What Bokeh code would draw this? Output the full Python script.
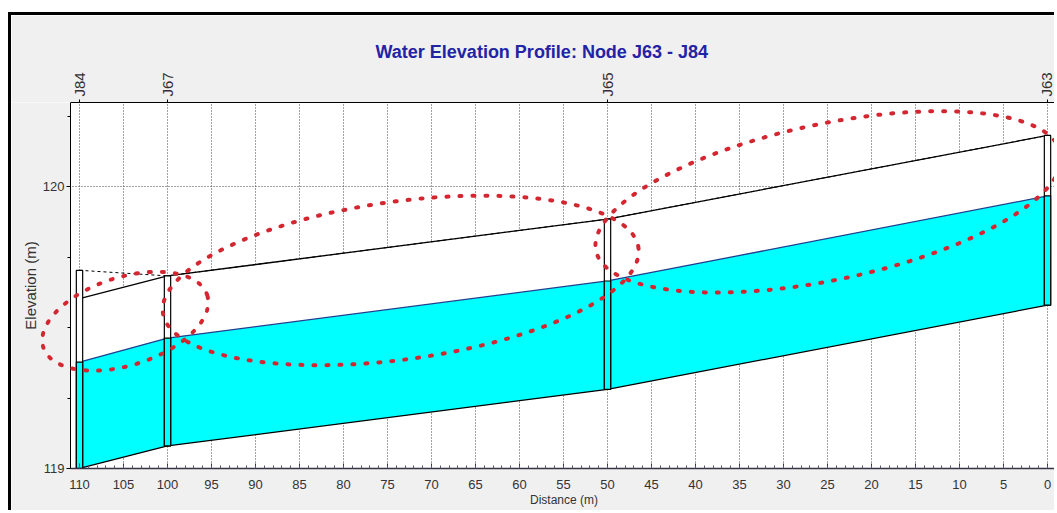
import numpy as np
from bokeh.plotting import figure
from bokeh.models import Range1d, LinearAxis, FixedTicker, PolyAnnotation
from bokeh.embed import file_html
from bokeh.resources import INLINE

# ---------------- data ----------------
node_names = ["J84", "J67", "J65", "J63"]
node_dist = [110, 100, 50, 0]
node_top = [119.704, 119.684, 119.886, 120.183]
pipe_crown = [119.603, 119.684, 119.886, 120.183]
pipe_invert = [119.000, 119.080, 119.281, 119.580]
water_elev = [119.378, 119.463, 119.666, 119.968]

x_ticks = list(range(0, 111, 5))
x_minor_ticks = list(range(0, 111, 1))
y_ticks = [119, 120]
y_minor_ticks = [119.25, 119.5, 119.75, 120.25]

title_text = "Water Elevation Profile:  Node J63 - J84"
x_label = "Distance (m)"
y_label = "Elevation (m)"

# hand-drawn red dotted ellipses (centre in data units, semi-axes in px, tilt in deg)
mark_cx = [104.8, 73.5, 24.9]
mark_cy = [119.523, 119.668, 119.947]
mark_a = [86, 240, 237.5]
mark_b = [44, 79, 78]
mark_tilt = [17.7, 7.8, 11.9]

# ---------------- layout ----------------
W, H = 1046, 498
ML, MR, MT, MB = 0, 0, 87, 0
X0, X1 = 117.727, -1.136      # frame spans whole canvas width
XA = 111.02                   # where the plot area (left axis) starts
Y0, Y1 = 118.840, 120.30      # frame reaches the canvas bottom
YA = 119.0                    # where the plot area (bottom axis) sits

p = figure(width=W, height=H, x_range=Range1d(X0, X1), y_range=Range1d(Y0, Y1),
           output_backend="svg", toolbar_location=None,
           min_border_left=ML, min_border_right=MR, min_border_top=MT, min_border_bottom=MB,
           background_fill_color="white", border_fill_color="#f0f0f0",
           outline_line_color=None)
p.styles = {"border-left": "3px solid #000", "border-top": "3px solid #000",
            "margin-top": "12px", "margin-left": "8px", "margin-bottom": "-10px"}

FONT = "Liberation Sans"

# title
p.title.text = title_text
p.title.align = "left"
p.title.offset = 364
p.title.text_font = FONT
p.title.text_font_size = "18px"
p.title.text_font_style = "bold"
p.title.text_color = "#2323a5"
p.title.standoff = 16

# bottom axis, drawn where the plot area ends
xa = p.xaxis[0]
xa.fixed_location = YA
xa.ticker = FixedTicker(ticks=x_ticks, minor_ticks=x_minor_ticks)
xa.bounds = (X1, XA)
xa.axis_label = x_label
xa.axis_label_text_font = FONT
xa.axis_label_text_font_size = "12px"
xa.axis_label_text_font_style = "normal"
xa.axis_label_text_color = "#333333"
xa.axis_label_standoff = 0
xa.major_label_text_font = FONT
xa.major_label_text_font_size = "13px"
xa.major_label_text_color = "#333333"
xa.major_label_standoff = 12
xa.major_tick_in = 5
xa.major_tick_out = 0
xa.minor_tick_in = 3
xa.minor_tick_out = 0
xa.axis_line_color = "#333344"
xa.axis_line_width = 1.5
xa.major_tick_line_color = "#333344"
xa.minor_tick_line_color = "#555566"

# left axis, drawn where the plot area begins
ya = p.yaxis[0]
ya.fixed_location = XA
ya.ticker = FixedTicker(ticks=y_ticks, minor_ticks=y_minor_ticks)
ya.bounds = (YA, Y1)
ya.axis_label = y_label
ya.axis_label_text_font = FONT
ya.axis_label_text_font_size = "15px"
ya.axis_label_text_font_style = "normal"
ya.axis_label_text_color = "#333333"
ya.axis_label_standoff = 1
ya.major_label_text_font = FONT
ya.major_label_text_font_size = "13px"
ya.major_label_text_color = "#333333"
ya.major_label_standoff = 2
ya.major_tick_out = 4
ya.major_tick_in = 0
ya.minor_tick_out = 3
ya.minor_tick_in = 0
ya.axis_line_color = "black"

# top axis with node names
top = LinearAxis(ticker=FixedTicker(ticks=node_dist),
                 major_label_overrides={float(d): n for d, n in zip(node_dist, node_names)},
                 major_label_orientation="vertical",
                 major_label_text_font=FONT, major_label_text_font_size="15px",
                 major_label_text_color="#333333", major_label_standoff=3,
                 major_tick_out=3, major_tick_in=0, minor_tick_out=0, minor_tick_in=0,
                 axis_line_color="black", bounds=(X1, XA))
p.add_layout(top, "above")

# grids
p.xgrid.grid_line_color = "#444444"
p.xgrid.grid_line_dash = "1 2"
p.ygrid.grid_line_color = "#444444"
p.ygrid.grid_line_dash = "1 2"

# grey strips outside the plot area (part of the window background)
p.quad(left=[X0, X0], right=[XA, X1], bottom=[Y0, Y0], top=[Y1, YA],
       fill_color="#f0f0f0", line_color=None)

# ---------------- profile ----------------
p.varea(x=node_dist, y1=pipe_invert, y2=pipe_crown, fill_color="white")
p.varea(x=node_dist, y1=pipe_invert, y2=water_elev, fill_color="#00ffff")
p.line(node_dist, node_top, line_color="black", line_width=1, line_dash="3 3")
p.line(node_dist, pipe_crown, line_color="black", line_width=1.3)
p.line(node_dist, water_elev, line_color="#1f3f8f", line_width=1.3)
p.line(node_dist, pipe_invert, line_color="black", line_width=1.3)

half = 0.36
left = [d - half for d in node_dist]
right = [d + half for d in node_dist]
p.quad(left=left, right=right, bottom=pipe_invert, top=node_top,
       fill_color="white", line_color="black", line_width=1.2)
p.quad(left=left, right=right, bottom=pipe_invert, top=water_elev,
       fill_color="#00ffff", line_color="black", line_width=1.2)

# ---------------- red dotted ellipses ----------------
frame_w = W - ML - MR
frame_h = H - MT - MB
pxx = frame_w / (X0 - X1)
pxy = frame_h / (Y1 - Y0)
t = np.linspace(0, 2 * np.pi, 241)
for cx, cy, a, b, tilt in zip(mark_cx, mark_cy, mark_a, mark_b, mark_tilt):
    th = np.radians(tilt)
    dx = a * np.cos(t) * np.cos(th) - b * np.sin(t) * np.sin(th)
    dy = a * np.cos(t) * np.sin(th) + b * np.sin(t) * np.cos(th)
    xs = (cx - dx / pxx).tolist()
    ys = (cy + dy / pxy).tolist()
    p.add_layout(PolyAnnotation(xs=xs, ys=ys, xs_units="data", ys_units="data",
                                fill_color=None, fill_alpha=0,
                                line_color="#d42630", line_alpha=1, line_width=4,
                                line_dash="2 11", line_cap="round"))

open("out.html", "w").write(file_html(p, INLINE))
